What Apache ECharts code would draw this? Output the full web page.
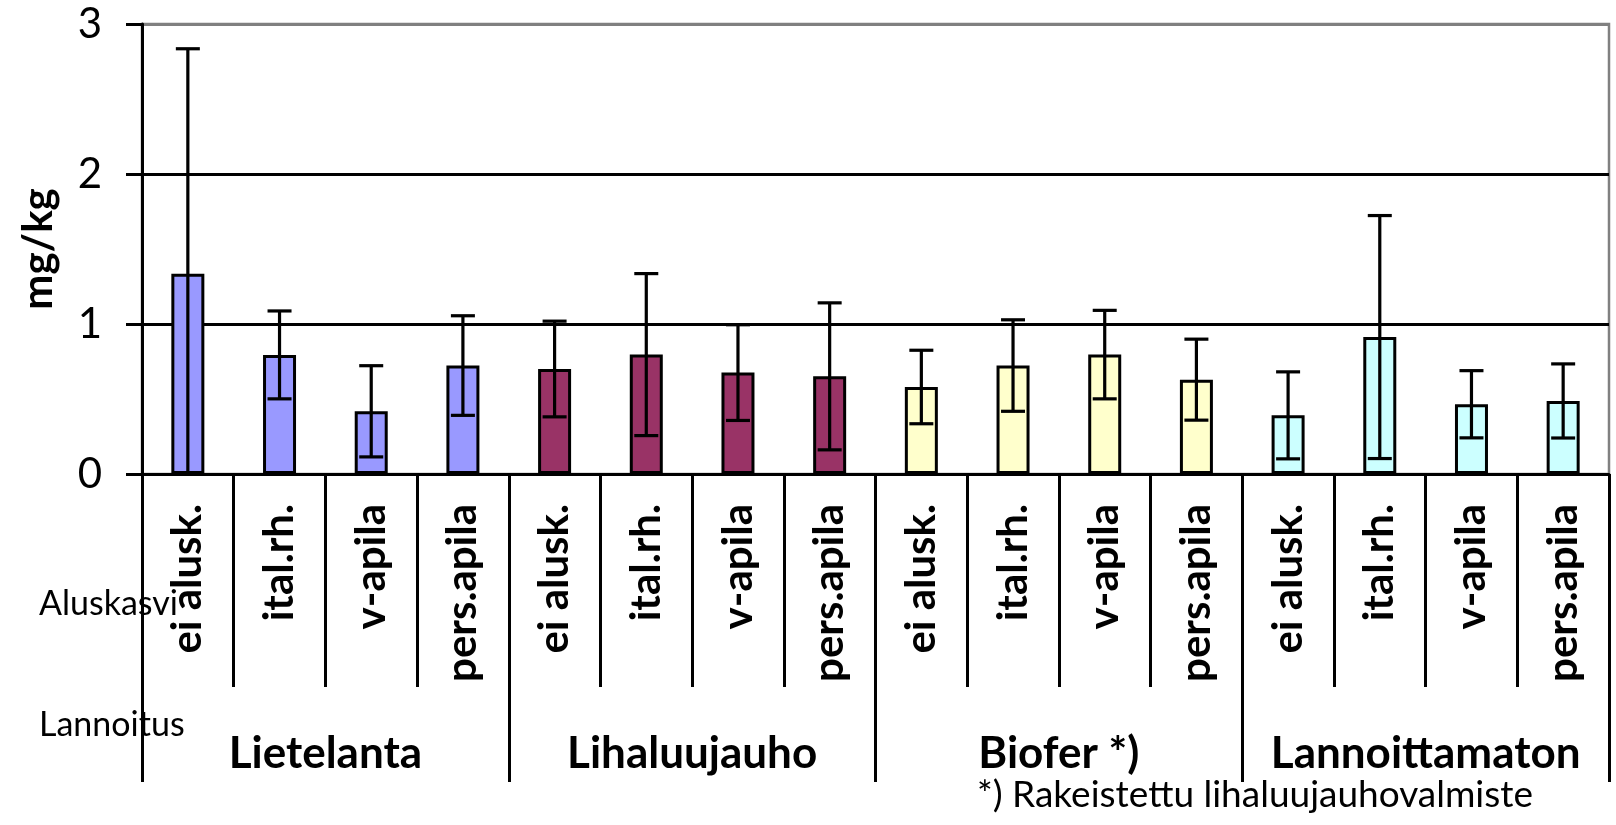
<!DOCTYPE html>
<html>
<head>
<meta charset="utf-8">
<script src="https://cdn.jsdelivr.net/npm/echarts@6/dist/echarts.min.js"></script>
<style>
html,body{margin:0;padding:0;background:#fff;}
#c{width:1616px;height:825px;}
</style>
</head>
<body>
<div id="c"></div>
<script>
// Aluskasvi (cover crop) categories, repeated per fertiliser group
const subCategories = ['ei alusk.', 'ital.rh.', 'v-apila', 'pers.apila'];
// Lannoitus (fertilisation) groups
const groups = ['Lietelanta', 'Lihaluujauho', 'Biofer *)', 'Lannoittamaton'];
const groupColors = ['#9999FF', '#993366', '#FFFFCC', '#CCFFFF'];
// mean values, mg/kg
const values = [1.335, 0.794, 0.418, 0.723,
                0.700, 0.796, 0.676, 0.651,
                0.580, 0.723, 0.796, 0.629,
                0.391, 0.913, 0.465, 0.487];
// error bar half-lengths
const errors = [1.50, 0.293, 0.304, 0.332,
                0.319, 0.540, 0.319, 0.490,
                0.245, 0.305, 0.295, 0.270,
                0.290, 0.810, 0.224, 0.247];
const yTicks = [0, 1, 2, 3];

const FONT = 'Lato';
const categories = [];
groups.forEach(() => subCategories.forEach(s => categories.push(s)));

const barData = values.map((v, i) => ({
  value: v,
  itemStyle: { color: groupColors[Math.floor(i / subCategories.length)] }
}));
const errData = values.map((v, i) => [i, v, errors[i]]);

const chart = echarts.init(document.getElementById('c'), null, { renderer: 'canvas' });
chart.setOption({
  animation: false,
  backgroundColor: '#ffffff',
  grid: {
    left: 142, right: 7, top: 24, bottom: 351,
    show: true, borderColor: '#808080', borderWidth: 2.5, backgroundColor: 'transparent'
  },
  xAxis: [
    {
      type: 'category', data: categories, position: 'bottom',
      axisLine: { show: true, lineStyle: { color: '#000', width: 3 } },
      axisTick: { show: true, interval: 0, length: 213, lineStyle: { color: '#000', width: 3 } },
      axisLabel: {
        interval: 0, rotate: 90, margin: 30, color: '#000',
        fontFamily: FONT, fontWeight: 'bold', fontSize: 42
      },
      splitLine: { show: false }
    },
    {
      type: 'category', data: groups, position: 'bottom',
      axisLine: { show: false },
      axisTick: { show: true, interval: 0, length: 308, lineStyle: { color: '#000', width: 3 } },
      axisLabel: {
        interval: 0, margin: 258, color: '#000',
        fontFamily: FONT, fontWeight: 'bold', fontSize: 44
      },
      splitLine: { show: false }
    }
  ],
  yAxis: {
    type: 'value', min: yTicks[0], max: yTicks[yTicks.length - 1], interval: 1,
    axisLine: { show: true, lineStyle: { color: '#000', width: 3 } },
    axisTick: { show: true, length: 16, lineStyle: { color: '#000', width: 3 } },
    axisLabel: { margin: 40, color: '#000', fontFamily: FONT, fontSize: 42 },
    splitLine: { show: true, lineStyle: { color: ['#000', '#000', '#000', '#808080'], width: 3 } }
  },
  series: [
    {
      type: 'bar', xAxisIndex: 0, data: barData, barWidth: 33,
      itemStyle: { borderColor: '#000', borderWidth: 3 },
      z: 3
    },
    {
      type: 'custom', xAxisIndex: 0, data: errData, z: 5,
      renderItem: function (params, api) {
        const i = api.value(0), v = api.value(1), e = api.value(2);
        const lowV = v - e;
        const top = api.coord([i, v + e]);
        const bot = api.coord([i, Math.max(0, lowV)]);
        const half = 12;
        const st = { stroke: '#000', lineWidth: 3.2 };
        const children = [
          { type: 'line', shape: { x1: top[0], y1: top[1], x2: bot[0], y2: bot[1] }, style: st },
          { type: 'line', shape: { x1: top[0] - half, y1: top[1], x2: top[0] + half, y2: top[1] }, style: st }
        ];
        if (lowV >= 0) {
          children.push({ type: 'line', shape: { x1: bot[0] - half, y1: bot[1], x2: bot[0] + half, y2: bot[1] }, style: st });
        }
        return { type: 'group', children: children };
      }
    }
  ],
  graphic: [
    { type: 'text', x: 38, y: 249, rotation: Math.PI / 2,
      style: { text: 'mg/kg', fill: '#000', font: 'bold 42px ' + FONT, align: 'center', verticalAlign: 'middle' } },
    { type: 'text', x: 39, y: 604,
      style: { text: 'Aluskasvi', fill: '#000', font: '34px ' + FONT, align: 'left', verticalAlign: 'middle' } },
    { type: 'text', x: 39, y: 725,
      style: { text: 'Lannoitus', fill: '#000', font: '34px ' + FONT, align: 'left', verticalAlign: 'middle' } },
    { type: 'text', x: 977, y: 795,
      style: { text: '*) Rakeistettu lihaluujauhovalmiste', fill: '#000', font: '37px ' + FONT, align: 'left', verticalAlign: 'middle' } }
  ]
});
</script>
</body>
</html>
